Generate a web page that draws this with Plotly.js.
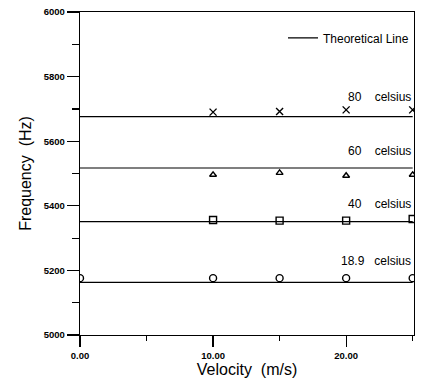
<!DOCTYPE html>
<html>
<head>
<meta charset="utf-8">
<script src="https://cdn.plot.ly/plotly-3.0.1.min.js"></script>
<style>html,body{margin:0;padding:0;background:#fff;}#chart{width:425px;height:383px;}</style>
</head>
<body>
<div id="chart"></div>
<script>
// Data
var velocity = [0, 10, 15, 20, 25];
var velocityHeated = [10, 15, 20, 25];
var freq18_9 = [5176, 5176, 5176, 5176, 5176];
var freq40 = [5356, 5354, 5354, 5359];
var freq60 = [5496, 5502, 5493, 5496];
var freq80 = [5690, 5692, 5697, 5697];
var theoryX = [0, 25];
var theory18_9 = [5163, 5163];
var theory40 = [5351, 5351];
var theory60 = [5517, 5517];
var theory80 = [5676, 5676];
var seriesLabels = ['18.9\u00a0\u00a0\u00a0celsius', '40\u00a0\u00a0\u00a0\u00a0celsius', '60\u00a0\u00a0\u00a0\u00a0celsius', '80\u00a0\u00a0\u00a0\u00a0celsius'];

var lineStyle = {color: '#000', width: 1.1};
function theoryTrace(y, show) {
  return {x: theoryX, y: y, mode: 'lines', line: lineStyle, name: 'Theoretical Line',
          showlegend: show, hoverinfo: 'skip'};
}
function markTrace(x, y, symbol, size, name) {
  return {x: x, y: y, mode: 'markers', name: name, showlegend: false,
          marker: {symbol: symbol, size: size, color: '#000', line: {color: '#000', width: 1.4}}};
}

var data = [
  theoryTrace(theory18_9, true),
  theoryTrace(theory40, false),
  theoryTrace(theory60, false),
  theoryTrace(theory80, false),
  markTrace(velocity, freq18_9, 'circle-open', 7, seriesLabels[0]),
  markTrace(velocityHeated, freq40, 'square-open', 7, seriesLabels[1]),
  markTrace(velocityHeated, freq60, 'triangle-up-open', 6, seriesLabels[2]),
  markTrace(velocityHeated, freq80, 'x-thin-open', 7, seriesLabels[3])
];

var font = 'Liberation Sans, Arial, sans-serif';
function label(text, y) {
  return {x: 25, y: y, xref: 'x', yref: 'y', text: text, showarrow: false,
          xanchor: 'right', yanchor: 'middle', font: {family: font, size: 12, color: '#000'}};
}

var layout = {
  width: 425, height: 383,
  margin: {l: 80, r: 11, t: 12, b: 48},
  paper_bgcolor: '#fff', plot_bgcolor: '#fff',
  font: {family: font, color: '#000'},
  showlegend: true,
  legend: {x: 1, y: 0.92, xanchor: 'right', yanchor: 'middle', bgcolor: 'rgba(0,0,0,0)',
           font: {family: font, size: 12, color: '#000'}},
  xaxis: {
    range: [0, 25.1], tickmode: 'linear', tick0: 0, dtick: 10, tickformat: '.2f',
    ticks: 'outside', ticklen: 11, tickwidth: 1.2, tickcolor: '#000',
    minor: {dtick: 5, tick0: 0, ticks: 'outside', ticklen: 5, tickwidth: 1.2, tickcolor: '#000', showgrid: false},
    showline: true, linecolor: '#000', linewidth: 1.3, mirror: true,
    showgrid: false, zeroline: false,
    tickfont: {family: font, size: 9.5, color: '#000', weight: 'bold'},
    title: {text: 'Velocity\u00a0\u00a0(m/s)', font: {family: font, size: 16, color: '#000'}, standoff: 3}
  },
  yaxis: {
    range: [5000, 6000], tickmode: 'linear', tick0: 5000, dtick: 200,
    ticks: 'outside', ticklen: 12, tickwidth: 1.2, tickcolor: '#000',
    minor: {dtick: 100, tick0: 5000, ticks: 'outside', ticklen: 7, tickwidth: 1.2, tickcolor: '#000', showgrid: false},
    showline: true, linecolor: '#000', linewidth: 1.3, mirror: true,
    showgrid: false, zeroline: false,
    tickfont: {family: font, size: 9.5, color: '#000', weight: 'bold'},
    title: {text: 'Frequency\u00a0\u00a0(Hz)', font: {family: font, size: 16, color: '#000'}, standoff: 8}
  },
  annotations: [
    label(seriesLabels[3], 5737),
    label(seriesLabels[2], 5570),
    label(seriesLabels[1], 5406),
    label(seriesLabels[0], 5229)
  ]
};

Plotly.newPlot('chart', data, layout, {staticPlot: true, displayModeBar: false});
</script>
</body>
</html>
